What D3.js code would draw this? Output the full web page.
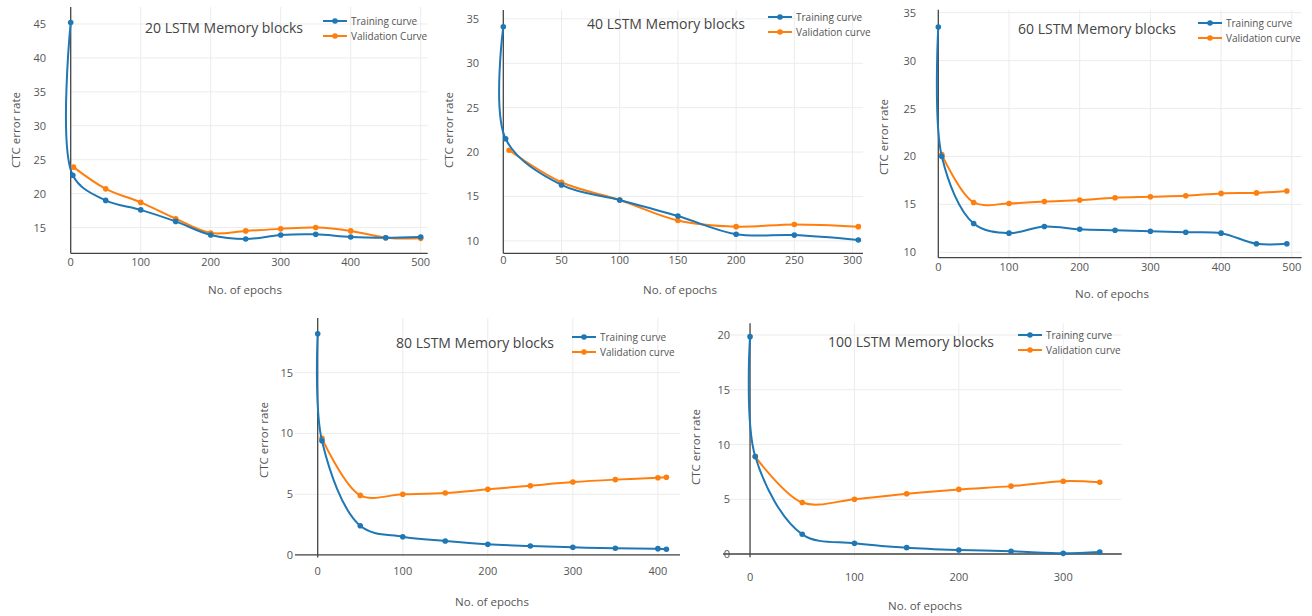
<!DOCTYPE html>
<html>
<head>
<meta charset="utf-8">
<script src="https://cdn.jsdelivr.net/npm/d3@7"></script>
<style>
  body { margin: 0; background: #fff; }
  svg { display: block; font-family: "Open Sans", sans-serif; }
</style>
</head>
<body>
<div id="chart"></div>
<script>
// ---- data ----
// 20 LSTM blocks
const trainEpochs20 = [0, 3, 50, 100, 150, 200, 250, 300, 350, 400, 450, 500];
const trainErr20    = [45.2, 22.7, 19.0, 17.6, 15.9, 13.9, 13.3, 13.9, 14.0, 13.6, 13.5, 13.6];
const valEpochs20   = [4, 50, 100, 150, 200, 250, 300, 350, 400, 450, 500];
const valErr20      = [23.9, 20.7, 18.7, 16.3, 14.2, 14.5, 14.8, 15.0, 14.5, 13.5, 13.4];
const xTicks20 = [0, 100, 200, 300, 400, 500];
const yTicks20 = [15, 20, 25, 30, 35, 40, 45];

// 40 LSTM blocks
const trainEpochs40 = [0, 2, 50, 100, 150, 200, 250, 305];
const trainErr40    = [34.1, 21.5, 16.3, 14.6, 12.8, 10.75, 10.65, 10.1];
const valEpochs40   = [5, 50, 100, 150, 200, 250, 305];
const valErr40      = [20.2, 16.6, 14.6, 12.3, 11.6, 11.85, 11.6];
const xTicks40 = [0, 50, 100, 150, 200, 250, 300];
const yTicks40 = [10, 15, 20, 25, 30, 35];

// 60 LSTM blocks
const trainEpochs60 = [0, 5, 50, 100, 150, 200, 250, 300, 350, 400, 450, 493];
const trainErr60    = [33.5, 20.0, 13.0, 12.0, 12.7, 12.4, 12.3, 12.2, 12.1, 12.0, 10.9, 10.9];
const valEpochs60   = [5, 50, 100, 150, 200, 250, 300, 350, 400, 450, 493];
const valErr60      = [20.2, 15.2, 15.1, 15.3, 15.45, 15.7, 15.8, 15.9, 16.15, 16.2, 16.4];
const xTicks60 = [0, 100, 200, 300, 400, 500];
const yTicks60 = [10, 15, 20, 25, 30, 35];

// 80 LSTM blocks
const trainEpochs80 = [0, 5, 50, 100, 150, 200, 250, 300, 350, 400, 410];
const trainErr80    = [18.2, 9.4, 2.4, 1.5, 1.15, 0.88, 0.74, 0.63, 0.55, 0.52, 0.47];
const valEpochs80   = [5, 50, 100, 150, 200, 250, 300, 350, 400, 410];
const valErr80      = [9.6, 4.9, 5.0, 5.1, 5.4, 5.7, 6.0, 6.2, 6.35, 6.4];
const xTicks80 = [0, 100, 200, 300, 400];
const yTicks80 = [0, 5, 10, 15];

// 100 LSTM blocks
const trainEpochs100 = [0, 5, 50, 100, 150, 200, 250, 300, 335];
const trainErr100    = [19.85, 8.9, 1.8, 0.98, 0.58, 0.37, 0.25, 0.06, 0.18];
const valEpochs100   = [5, 50, 100, 150, 200, 250, 300, 335];
const valErr100      = [8.9, 4.7, 5.0, 5.5, 5.9, 6.2, 6.65, 6.55];
const xTicks100 = [0, 100, 200, 300];
const yTicks100 = [0, 5, 10, 15, 20];

const seriesNames = ["Training curve", "Validation curve"];
const blue = "#1f77b4", orange = "#ff7f0e";

// ---- panel placement (pixels) ----
const panels = [
  { title: "20 LSTM Memory blocks", names: ["Training curve", "Validation Curve"],
    tx: trainEpochs20, ty: trainErr20, vx: valEpochs20, vy: valErr20, xt: xTicks20, yt: yTicks20,
    xd: [0, 510], xr: [70.7, 427.7], yd: [11.2, 47.5], yr: [253.3, 7],
    titleX: 145, titleY: 33, legX: 323, legY: 21, labX: 16, labY: 130, epX: 245, epY: 294, tickY: 266, yLabRight: 46 },
  { title: "40 LSTM Memory blocks", names: seriesNames,
    tx: trainEpochs40, ty: trainErr40, vx: valEpochs40, vy: valErr40, xt: xTicks40, yt: yTicks40,
    xd: [0, 309], xr: [503.3, 863], yd: [8.6, 36], yr: [253.3, 10],
    titleX: 587, titleY: 29, legX: 768, legY: 17, labX: 449, labY: 130, epX: 680, epY: 294, tickY: 264, yLabRight: 479 },
  { title: "60 LSTM Memory blocks", names: seriesNames,
    tx: trainEpochs60, ty: trainErr60, vx: valEpochs60, vy: valErr60, xt: xTicks60, yt: yTicks60,
    xd: [0, 514], xr: [938.3, 1301.7], yd: [9.44, 35.3], yr: [257.7, 9.8],
    titleX: 1018, titleY: 34, legX: 1198, legY: 23, labX: 884, labY: 137, epX: 1112, epY: 298, tickY: 271, yLabRight: 916 },
  { title: "80 LSTM Memory blocks", names: seriesNames,
    tx: trainEpochs80, ty: trainErr80, vx: valEpochs80, vy: valErr80, xt: xTicks80, yt: yTicks80,
    xd: [-26.7, 426], xr: [295, 680], yd: [-0.2, 19.5], yr: [557.4, 318],
    titleX: 396, titleY: 348, legX: 572, legY: 337, labX: 264, labY: 440, epX: 492, epY: 606, tickY: 575, yLabRight: 293 },
  { title: "100 LSTM Memory blocks", names: seriesNames,
    tx: trainEpochs100, ty: trainErr100, vx: valEpochs100, vy: valErr100, xt: xTicks100, yt: yTicks100,
    xd: [-25.9, 356], xr: [723, 1121.7], yd: [-0.3, 21.07], yr: [557.3, 323.3],
    titleX: 828, titleY: 347, legX: 1018, legY: 335, labX: 696, labY: 447, epX: 925, epY: 610, tickY: 581, yLabRight: 730 }
];

const svg = d3.select("#chart").append("svg")
  .attr("width", 1312).attr("height", 616);

panels.forEach(function (p) {
  const x = d3.scaleLinear().domain(p.xd).range(p.xr);
  const y = d3.scaleLinear().domain(p.yd).range(p.yr);
  const g = svg.append("g");

  // grid
  g.append("g").selectAll("line").data(p.xt.filter(v => v !== 0)).enter().append("line")
    .attr("x1", d => x(d)).attr("x2", d => x(d))
    .attr("y1", p.yr[0]).attr("y2", p.yr[1])
    .attr("stroke", "#ececec").attr("stroke-width", 1);
  g.append("g").selectAll("line").data(p.yt).enter().append("line")
    .attr("x1", p.xr[0]).attr("x2", p.xr[1])
    .attr("y1", d => y(d)).attr("y2", d => y(d))
    .attr("stroke", "#ececec").attr("stroke-width", 1);

  // x axis line (at bottom or at zero)
  const yBase = p.yd[0] < 0 ? y(0) : p.yr[0];
  const xStart = p.xd[0] < 0 ? p.xr[0] : x(0);
  g.append("line")
    .attr("x1", xStart).attr("x2", p.xr[1])
    .attr("y1", yBase).attr("y2", yBase)
    .attr("stroke", "#444").attr("stroke-width", 1.3);
  // y zero line
  g.append("line")
    .attr("x1", x(0)).attr("x2", x(0))
    .attr("y1", p.yr[0]).attr("y2", p.yr[1])
    .attr("stroke", "#444").attr("stroke-width", 1.3);

  // tick labels
  g.append("g").selectAll("text").data(p.xt).enter().append("text")
    .attr("x", d => x(d)).attr("y", p.tickY)
    .attr("text-anchor", "middle")
    .attr("font-size", 11).attr("fill", "#555")
    .text(d => d);
  g.append("g").selectAll("text").data(p.yt).enter().append("text")
    .attr("x", p.yLabRight).attr("y", d => y(d) + 4)
    .attr("text-anchor", "end")
    .attr("font-size", 11).attr("fill", "#555")
    .text(d => d);

  // axis titles
  g.append("text")
    .attr("transform", "translate(" + p.labX + "," + p.labY + ") rotate(-90)")
    .attr("text-anchor", "middle").attr("dy", "0.35em")
    .attr("font-size", 11.5).attr("fill", "#555")
    .text("CTC error rate");
  g.append("text")
    .attr("x", p.epX).attr("y", p.epY)
    .attr("text-anchor", "middle")
    .attr("font-size", 11.5).attr("fill", "#555")
    .text("No. of epochs");

  // title
  g.append("text")
    .attr("x", p.titleX).attr("y", p.titleY)
    .attr("font-size", 14).attr("fill", "#444")
    .text(p.title);

  // curves
  const line = d3.line()
    .x(d => x(d[0])).y(d => y(d[1]))
    .curve(d3.curveCatmullRom.alpha(0.5));
  const series = [
    { pts: d3.zip(p.vx, p.vy), color: orange },
    { pts: d3.zip(p.tx, p.ty), color: blue }
  ];
  series.forEach(function (s) {
    g.append("path")
      .attr("d", line(s.pts))
      .attr("fill", "none").attr("stroke", s.color).attr("stroke-width", 2);
    g.append("g").selectAll("circle").data(s.pts).enter().append("circle")
      .attr("cx", d => x(d[0])).attr("cy", d => y(d[1]))
      .attr("r", 2.8).attr("fill", s.color);
  });

  // legend
  [blue, orange].forEach(function (c, i) {
    const ly = p.legY + i * 15;
    g.append("line")
      .attr("x1", p.legX).attr("x2", p.legX + 24)
      .attr("y1", ly).attr("y2", ly)
      .attr("stroke", c).attr("stroke-width", 2);
    g.append("circle")
      .attr("cx", p.legX + 12).attr("cy", ly).attr("r", 2.8).attr("fill", c);
    g.append("text")
      .attr("x", p.legX + 28).attr("y", ly + 3.5)
      .attr("font-size", 10).attr("fill", "#555")
      .text(p.names[i]);
  });
});
</script>
</body>
</html>
